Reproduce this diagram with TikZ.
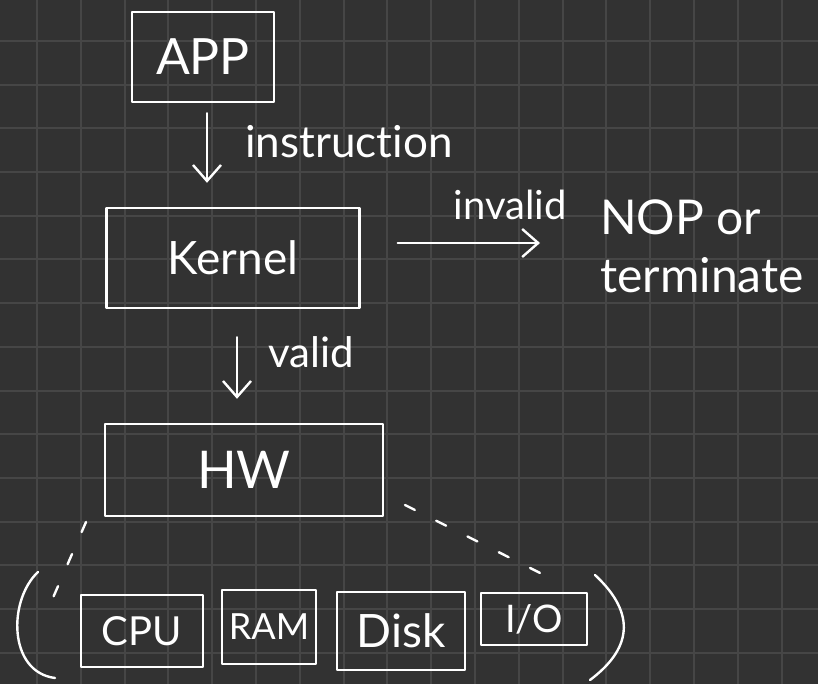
\documentclass[tikz,border=0pt]{standalone}
\usepackage{fontspec}
\setmainfont{Lato}[Ligatures=NoCommon]
\usetikzlibrary{arrows.meta}
\definecolor{bg}{HTML}{323232}
\definecolor{gridc}{HTML}{464646}
\begin{document}
\begin{tikzpicture}[x=1pt,y=-1pt,
  ink/.style={draw=white,line width=2.4pt,line cap=round,line join=round},
  box/.style={ink,rectangle,inner sep=0pt,text=white},
  lbl/.style={text=white,inner sep=0pt},
  arr/.style={ink,-{Straight Barb[length=16pt,width=28pt,line width=2.4pt]}},
  dsh/.style={ink,dash pattern=on 11pt off 24pt}]
\fill[bg] (0,0) rectangle (818,684);
\useasboundingbox (0,0) rectangle (818,684);
\foreach \i in {0,...,18} {\draw[gridc,line width=2pt] (37+43.8*\i,0) -- (37+43.8*\i,684);}
\foreach \j in {0,...,15} {\draw[gridc,line width=2pt] (0,41+43.7*\j) -- (818,41+43.7*\j);}
% main boxes
\node[box,minimum width=142pt,minimum height=90pt,font=\fontsize{50}{56}\selectfont] (app) at (203,57) {APP};
\node[box,minimum width=253pt,minimum height=100pt,font=\fontsize{46}{52}\selectfont] (kernel) at (233,258) {Kernel};
\node[box,minimum width=278pt,minimum height=92pt,font=\fontsize{52}{58}\selectfont] (hw) at (244,470) {HW};
% small boxes
\node[box,minimum width=122pt,minimum height=72pt,font=\fontsize{40}{46}\selectfont] (cpu) at (142,631) {CPU};
\node[box,minimum width=94pt,minimum height=74pt,font=\fontsize{36}{42}\selectfont] (ram) at (269,627) {RAM};
\node[box,minimum width=128pt,minimum height=78pt,font=\fontsize{46}{52}\selectfont] (disk) at (401,631) {Disk};
\node[box,minimum width=106pt,minimum height=52pt,font=\fontsize{38}{44}\selectfont] (io) at (534,619) {I/O};
% labels
\node[lbl,anchor=west,font=\fontsize{44}{50}\selectfont] (linstr) at (245,142) {instruction};
\node[lbl,font=\fontsize{40}{46}\selectfont] (linv) at (510,205) {invalid};
\node[lbl,anchor=west,font=\fontsize{42}{48}\selectfont] (lval) at (268,352) {valid};
\node[lbl,anchor=west,align=left,font=\fontsize{48}{58}\selectfont] (nop) at (600,246) {NOP or\\terminate};
% arrows
\coordinate (ay) at (0,243);
\draw[arr,shorten <=10pt,shorten >=24pt] ([xshift=4pt]app.south) -- ([xshift=4pt]app.south |- kernel.north);
\draw[arr,shorten <=37pt,shorten >=60pt] (kernel.east |- ay) -- (nop.west |- ay);
\draw[arr,shorten <=28pt,shorten >=24pt] ([xshift=4pt]kernel.south) -- ([xshift=4pt]kernel.south |- hw.north);
% parentheses group
\coordinate (pl1) at (38,572);
\coordinate (pl2) at (55,678);
\coordinate (pr1) at (595,575);
\coordinate (pr2) at (590,680);
\draw[ink] (pl1) .. controls (8,600) and (8,672) .. (pl2);
\draw[ink] (pr1) .. controls (638,615) and (630,650) .. (pr2);
% dashed links
\coordinate (hl) at (86,522);
\coordinate (gl) at (52,600);
\coordinate (hr) at (405,505);
\coordinate (gr) at (550,578);
\draw[dsh] (hl) -- (gl);
\draw[dsh] (hr) -- (gr);
\end{tikzpicture}
\end{document}
